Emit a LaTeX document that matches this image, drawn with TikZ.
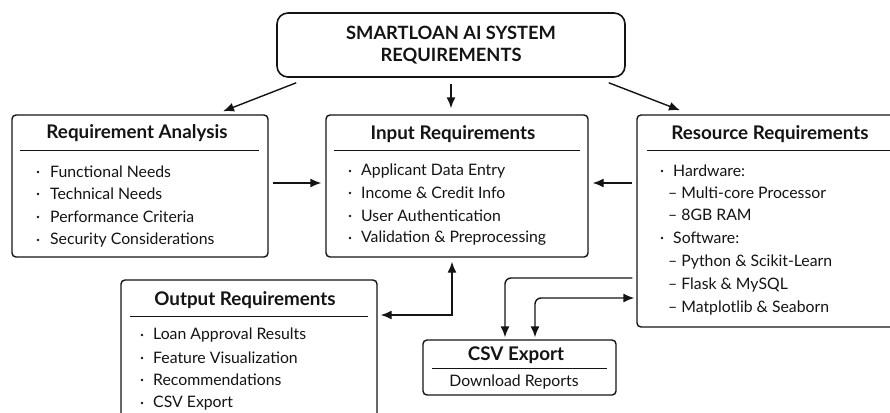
\documentclass[tikz,border=0pt]{standalone}
\usepackage{fontspec}
\setmainfont{Lato}
\usetikzlibrary{arrows.meta,calc}

\definecolor{ink}{HTML}{141414}

\tikzset{
  panel/.style={draw=ink, line width=1.4pt, rounded corners=4pt, inner sep=0pt},
  headbox/.style={draw=ink, line width=1.6pt, rounded corners=11pt, inner sep=0pt,
    align=center, font=\fontsize{18.3}{22}\selectfont\bfseries, text=ink},
  heading/.style={font=\fontsize{18.8}{22}\selectfont\bfseries, text=ink, inner sep=0pt},
  entry/.style={font=\fontsize{15.8}{19}\selectfont, text=ink, anchor=west, inner sep=0pt},
  rule/.style={draw=ink, line width=1pt},
  dot/.style={fill=ink, draw=none},
  arr/.style={draw=ink, line width=1.4pt, -{Latex[length=11pt,width=9pt]}},
  dbl/.style={draw=ink, line width=1.4pt, {Latex[length=11pt,width=9pt]}-{Latex[length=11pt,width=9pt]}}
}

\begin{document}
\begin{tikzpicture}[x=1pt,y=-1pt]
\useasboundingbox (0,0) rectangle (890,412);
\clip (0,0) rectangle (890,412);
\fill[white] (0,0) rectangle (890,412);

% ---- boxes ----
\node[headbox, minimum width=348pt, minimum height=64pt] (title) at (451,45)
  {SMARTLOAN AI SYSTEM\\REQUIREMENTS};
\node[panel, minimum width=256pt, minimum height=142pt] (reqA) at (140,186) {};
\node[panel, minimum width=262pt, minimum height=142pt] (input) at (457,186) {};
\node[panel, minimum width=258pt, minimum height=212pt] (resource) at (766,221) {};
\node[panel, minimum width=256pt, minimum height=140pt] (output) at (249,350) {};
\node[panel, minimum width=193pt, minimum height=55pt] (csv) at (519.5,367.5) {};

% ---- Requirement Analysis ----
\node[heading] (reqAh) at (137,133) {Requirement Analysis};
\draw[rule] (20,150) -- (259,150);
\foreach \y/\t [count=\i] in {172/Functional Needs, 194/Technical Needs,
    217/Performance Criteria, 240/Security Considerations} {
  \fill[dot] (38,\y) circle (1.4pt);
  \node[entry] (reqA\i) at (50,\y) {\t};
}

% ---- Input Requirements ----
\node[heading] (inputh) at (453,134) {Input Requirements};
\draw[rule] (334,150) -- (580,150);
\foreach \y/\t [count=\i] in {171/Applicant Data Entry, 193/Income \& Credit Info,
    216/User Authentication, 238/Validation \& Preprocessing} {
  \fill[dot] (350,\y) circle (1.4pt);
  \node[entry] (input\i) at (361,\y) {\t};
}

% ---- Resource Requirements ----
\node[heading] (resh) at (770,134) {Resource Requirements};
\draw[rule] (647,150) -- (890,150);
\fill[dot] (662,171) circle (1.4pt);
\node[entry] (hw) at (673,171) {Hardware:};
\fill[dot] (662,238) circle (1.4pt);
\node[entry] (sw) at (673,238) {Software:};
\foreach \y/\t [count=\i] in {193/Multi-core Processor, 215/8GB RAM,
    262/Python \& Scikit-Learn, 285/Flask \& MySQL, 308/Matplotlib \& Seaborn} {
  \node[entry] (res\i) at (668,\y) {–\hspace{4pt}\t};
}

% ---- Output Requirements ----
\node[heading] (outh) at (245,300) {Output Requirements};
\draw[rule] (130,316) -- (368,316);
\foreach \y/\t [count=\i] in {335/Loan Approval Results, 358/Feature Visualization,
    380/Recommendations, 403/CSV Export} {
  \fill[dot] (142,\y) circle (1.4pt);
  \node[entry] (out\i) at (153,\y) {\t};
}

% ---- CSV Export ----
\node[heading] (csvh) at (516,355) {CSV Export};
\draw[rule] (432,368) -- (607,368);
\node[entry, anchor=center] (csvd) at (514,382) {Download Reports};

% ---- connectors ----
\draw[arr] ([xshift=20pt,yshift=-5pt]title.south west) -- ([xshift=83pt,yshift=3pt]reqA.north);
\draw[arr] ([yshift=-6pt]title.south) -- ([yshift=6pt]title.south |- input.north);
\draw[arr] ([xshift=-17pt,yshift=-5pt]title.south east) -- ([xshift=-86pt,yshift=4pt]resource.north);

\draw[arr] ([xshift=4pt]reqA.east |- 0,183) -- ([xshift=-4pt]input.west |- 0,183);
\draw[arr] ([xshift=-4pt]resource.west |- 0,183) -- ([xshift=4pt]input.east |- 0,183);

\coordinate (oi) at (452,315);
\draw[dbl, shorten <=3pt, shorten >=4pt] (output.east |- oi) -| (input.south -| oi);

\coordinate (rc) at (505,278);
\draw[arr, rounded corners=6pt, shorten <=4pt, shorten >=2pt] (resource.west |- rc) -| (csv.north -| rc);

\coordinate (cr) at (535,298);
\draw[dbl, rounded corners=6pt, shorten <=2pt, shorten >=2pt] (csv.north -| cr) |- (resource.west |- cr);
\end{tikzpicture}
\end{document}
